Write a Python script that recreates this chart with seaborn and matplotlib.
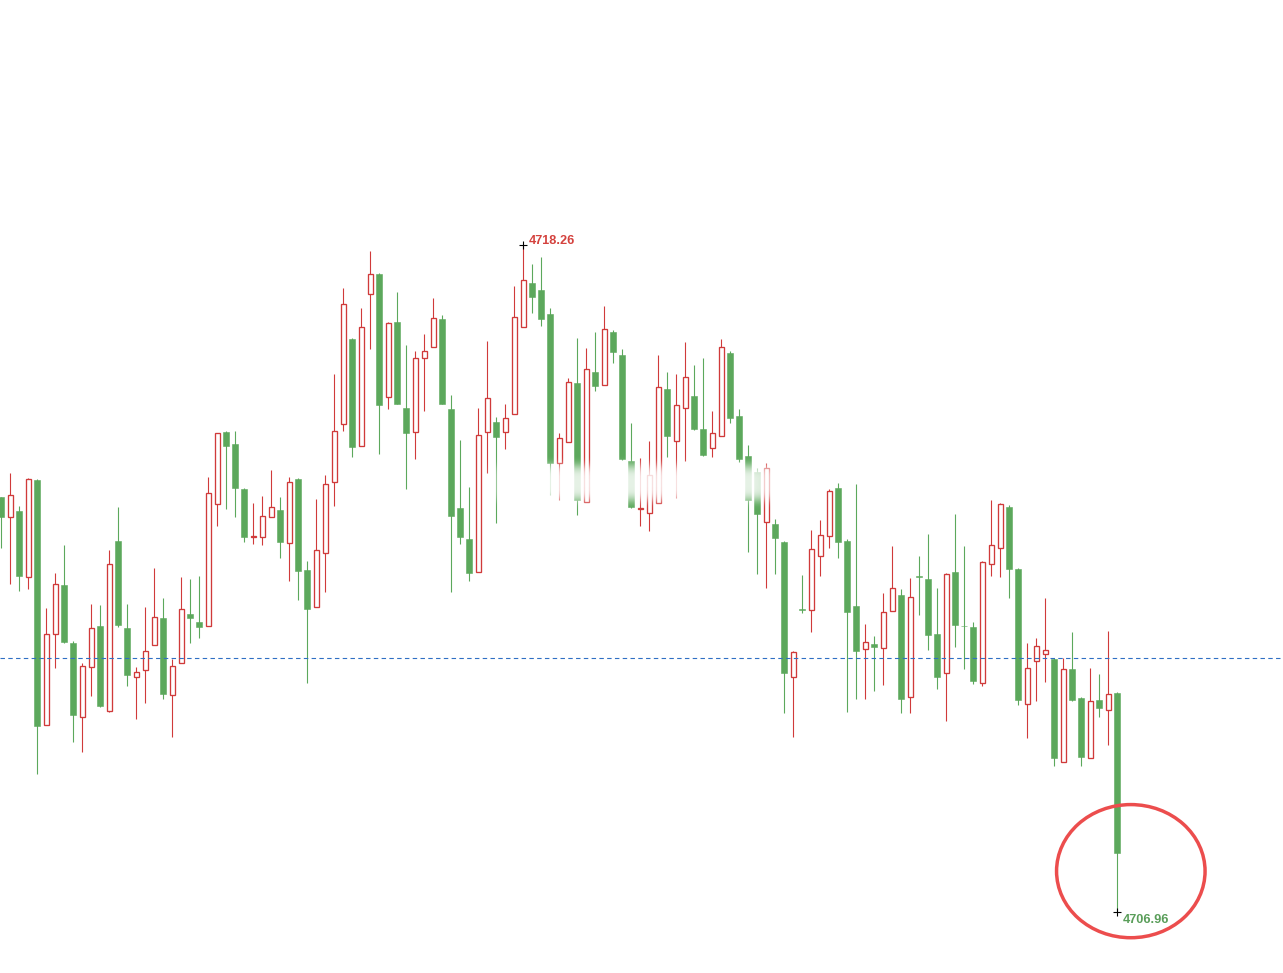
import matplotlib
matplotlib.use("Agg")
import matplotlib.pyplot as plt
from matplotlib.patches import Ellipse
import numpy as np
import pandas as pd
import seaborn as sns

# ---- data ----
opens = [4713.99, 4713.65, 4713.75, 4712.64, 4714.28, 4710.13, 4711.67, 4712.50, 4711.52, 4710.26,
         4711.11, 4711.80, 4710.36, 4713.24, 4711.77, 4710.94, 4711.06, 4711.48, 4711.94, 4710.64,
         4711.18, 4712.01, 4711.87, 4711.80, 4713.87, 4715.09, 4714.89, 4714.13, 4713.31, 4713.31,
         4713.65, 4713.77, 4713.21, 4714.30, 4712.75, 4712.13, 4713.04, 4714.24, 4715.23, 4716.67,
         4714.85, 4717.43, 4717.77, 4715.68, 4716.96, 4715.50, 4715.09, 4716.35, 4716.53, 4717.01,
         4715.48, 4713.80, 4713.28, 4712.72, 4715.09, 4715.26, 4715.09, 4715.40, 4716.87, 4717.62,
         4717.50, 4717.09, 4714.57, 4714.92, 4715.92, 4713.91, 4716.11, 4715.89, 4716.79, 4716.40,
         4714.60, 4713.79, 4713.72, 4713.89, 4715.82, 4714.94, 4715.50, 4715.70, 4715.14, 4714.82,
         4715.02, 4716.43, 4715.36, 4714.68, 4714.41, 4713.57, 4713.53, 4713.23, 4710.94, 4712.09,
         4712.08, 4712.99, 4713.33, 4714.14, 4713.24, 4712.14, 4711.42, 4711.50, 4711.43, 4712.06,
         4712.33, 4710.60, 4712.65, 4712.60, 4711.67, 4711.01, 4712.72, 4711.81, 4711.79, 4710.84,
         4712.86, 4713.13, 4713.82, 4712.77, 4710.48, 4711.21, 4711.33, 4711.25, 4709.50, 4711.08,
         4710.59, 4709.57, 4710.55, 4710.38, 4710.67]
highs = [4713.99, 4714.40, 4713.84, 4714.31, 4714.30, 4712.11, 4712.70, 4713.18, 4711.55, 4711.18,
         4712.18, 4712.16, 4713.09, 4713.82, 4712.18, 4711.11, 4712.13, 4712.79, 4712.28, 4711.25,
         4712.64, 4712.60, 4712.65, 4714.33, 4715.08, 4715.11, 4715.11, 4714.14, 4713.89, 4714.01,
         4714.45, 4713.99, 4714.33, 4714.31, 4712.91, 4713.96, 4714.36, 4716.07, 4717.53, 4716.68,
         4717.19, 4718.16, 4717.79, 4716.96, 4717.46, 4716.57, 4716.46, 4716.75, 4717.36, 4717.07,
         4715.72, 4714.96, 4714.16, 4715.50, 4716.63, 4715.35, 4715.57, 4717.56, 4718.26, 4717.94,
         4718.06, 4717.19, 4715.07, 4716.01, 4716.68, 4716.51, 4716.79, 4717.23, 4716.82, 4716.50,
         4715.24, 4714.65, 4714.94, 4716.40, 4716.11, 4716.07, 4716.62, 4716.23, 4716.35, 4715.45,
         4716.67, 4716.46, 4715.48, 4714.87, 4714.48, 4714.57, 4713.62, 4713.24, 4711.38, 4712.67,
         4713.43, 4713.60, 4714.13, 4714.23, 4713.28, 4714.21, 4711.84, 4711.64, 4712.36, 4713.16,
         4712.43, 4712.62, 4712.99, 4713.36, 4712.45, 4712.70, 4713.70, 4713.16, 4711.87, 4712.91,
         4713.94, 4713.89, 4713.85, 4712.79, 4711.52, 4711.60, 4712.28, 4711.26, 4711.26, 4711.70,
         4710.60, 4711.09, 4710.99, 4711.72, 4710.69]
lows = [4713.13, 4712.52, 4712.40, 4712.43, 4709.30, 4710.13, 4711.09, 4711.52, 4709.84, 4709.67,
        4710.62, 4710.43, 4710.35, 4711.79, 4710.79, 4710.23, 4710.50, 4711.48, 4710.57, 4709.92,
        4711.18, 4711.52, 4711.60, 4711.80, 4713.50, 4713.79, 4713.65, 4713.23, 4713.19, 4713.18,
        4713.65, 4712.96, 4712.57, 4712.25, 4710.84, 4712.13, 4712.38, 4713.84, 4715.11, 4714.67,
        4714.85, 4716.50, 4714.72, 4715.48, 4715.56, 4714.13, 4714.63, 4715.45, 4716.53, 4715.56,
        4712.38, 4713.19, 4712.57, 4712.72, 4714.40, 4713.55, 4714.80, 4715.40, 4716.87, 4717.11,
        4716.89, 4714.02, 4713.94, 4714.92, 4713.69, 4713.91, 4715.79, 4715.89, 4716.26, 4714.62,
        4713.81, 4713.50, 4713.41, 4713.89, 4714.67, 4713.97, 4714.60, 4715.13, 4714.68, 4714.67,
        4715.02, 4715.24, 4714.58, 4713.06, 4712.69, 4712.45, 4712.69, 4710.33, 4709.92, 4712.03,
        4711.70, 4712.65, 4713.13, 4712.96, 4710.35, 4710.57, 4710.57, 4710.70, 4710.81, 4712.06,
        4710.33, 4710.33, 4711.99, 4711.40, 4710.74, 4710.20, 4711.45, 4711.08, 4710.82, 4710.79,
        4712.65, 4712.64, 4712.28, 4710.47, 4709.91, 4710.53, 4710.86, 4709.43, 4709.50, 4710.54,
        4709.43, 4709.57, 4710.26, 4709.79, 4706.96]
closes = [4713.65, 4714.02, 4712.65, 4714.30, 4710.11, 4711.67, 4712.52, 4711.53, 4710.30, 4711.13,
          4711.77, 4710.45, 4712.86, 4711.82, 4710.97, 4711.03, 4711.38, 4711.96, 4710.65, 4711.13,
          4712.09, 4711.94, 4711.79, 4714.06, 4715.07, 4714.85, 4714.14, 4713.31, 4713.33, 4713.67,
          4713.82, 4713.23, 4714.24, 4712.74, 4712.09, 4713.09, 4714.21, 4715.11, 4717.26, 4714.84,
          4716.87, 4717.77, 4715.55, 4716.94, 4715.57, 4715.07, 4716.35, 4716.46, 4717.02, 4715.57,
          4713.67, 4713.31, 4712.70, 4715.04, 4715.67, 4715.01, 4715.33, 4717.04, 4717.67, 4717.38,
          4717.01, 4714.57, 4714.99, 4715.94, 4713.94, 4716.16, 4715.87, 4716.84, 4716.45, 4714.63,
          4713.82, 4713.80, 4714.36, 4715.85, 4715.02, 4715.55, 4716.02, 4715.14, 4714.70, 4715.07,
          4716.53, 4715.33, 4714.63, 4713.94, 4713.70, 4714.48, 4713.30, 4711.01, 4711.36, 4712.08,
          4713.11, 4713.35, 4714.09, 4713.23, 4712.04, 4711.38, 4711.53, 4711.45, 4712.04, 4712.45,
          4710.57, 4712.30, 4712.64, 4711.65, 4710.94, 4712.69, 4711.82, 4711.80, 4710.87, 4712.89,
          4713.18, 4713.87, 4712.77, 4710.55, 4711.09, 4711.47, 4711.40, 4709.57, 4711.08, 4710.55,
          4709.59, 4710.53, 4710.42, 4710.65, 4707.96]
ref_level = 4711.26
max_label = "4718.26"
min_label = "4706.96"

# ---- styling ----
UP = "#d03a3a"
DOWN = "#5ca85c"
sns.set_theme(style="white")
plt.rcParams["font.family"] = ["Liberation Sans", "DejaVu Sans"]

df = pd.DataFrame({"open": opens, "high": highs, "low": lows, "close": closes})
df["x"] = np.arange(len(df))
df["up"] = df["close"] >= df["open"]

fig = plt.figure(figsize=(12.83, 9.73), dpi=100)
ax = fig.add_axes([0, 0, 1, 1])

# wicks
colors = [UP if u else DOWN for u in df["up"]]
ax.vlines(df["x"], df["low"], df["high"], colors=colors, linewidth=0.8, zorder=1)

# bodies
up = df[df["up"]]
dn = df[~df["up"]]
ax.bar(dn["x"], (dn["open"] - dn["close"]).clip(lower=0.012), bottom=dn["close"],
       width=0.7, color=DOWN, edgecolor=DOWN, linewidth=0.4, zorder=2)
ax.bar(up["x"], (up["close"] - up["open"]).clip(lower=0.012), bottom=up["open"],
       width=0.6, facecolor="white", edgecolor=UP, linewidth=0.95, zorder=2)

# soft blurred watermark band (unreadable in the reference)
gy = np.linspace(-1, 1, 80)
gx = np.linspace(-1, 1, 200)
alpha = np.outer(np.exp(-(gy / 0.62) ** 4), np.clip(1.15 - np.abs(gx) ** 6, 0, 1)) * 0.85
img = np.ones((80, 200, 4))
img[..., 3] = np.clip(alpha, 0, 1)
ax.imshow(img, extent=(54.0, 88.3, 4713.72, 4714.72), aspect="auto", zorder=3,
          interpolation="bilinear")

ax.set_xlim(-0.144, 142.41)
ax.set_ylim(4705.93, 4722.41)
ax.set_axis_off()

# reference dashed line
ax.axhline(ref_level, color="#2f6fc4", linewidth=0.8, linestyle=(0, (4, 3)), zorder=4)

# max / min markers
i_max = int(np.argmax(df["high"]))
i_min = int(np.argmin(df["low"]))
marks = pd.DataFrame({"x": [i_max, i_min], "y": [df["high"][i_max], df["low"][i_min]]})
sns.scatterplot(data=marks, x="x", y="y", marker="+", s=38, color="black",
                linewidth=0.8, ax=ax, zorder=5, legend=False)
ax.annotate(max_label, (i_max, df["high"][i_max]), xytext=(3.6, 0.8), textcoords="offset points",
            ha="left", va="baseline", color="#d4423e", fontsize=9.2, fontweight="bold", zorder=6)
ax.annotate(min_label, (i_min, df["low"][i_min]), xytext=(3.6, -1.0), textcoords="offset points",
            ha="left", va="top", color="#5a9e5a", fontsize=9.2, fontweight="bold", zorder=6)

# highlight ellipse round the final low
ax.add_patch(Ellipse((125.5, 4707.655), 16.5, 2.255, fill=False, edgecolor="#ec4d4d",
                     linewidth=2.5, zorder=6))

ax.set_xlabel("")
ax.set_ylabel("")
fig.savefig("out.png", dpi=100, facecolor="white")
